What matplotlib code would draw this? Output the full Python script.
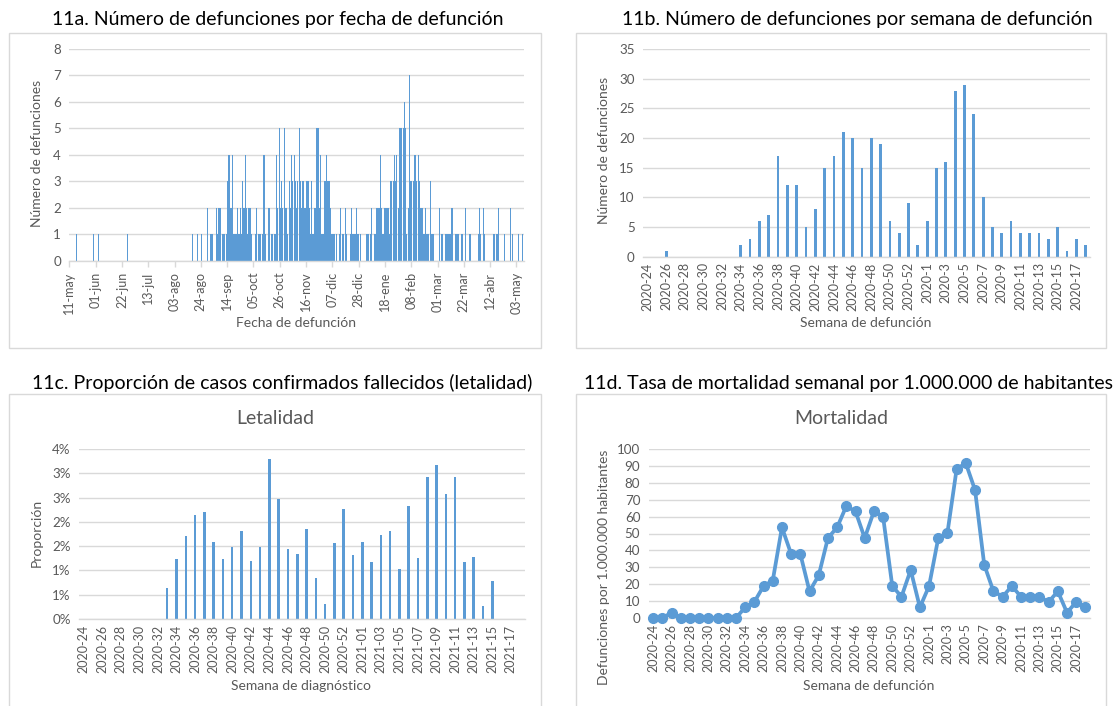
import matplotlib
matplotlib.use("Agg")
import matplotlib.pyplot as plt
from matplotlib.patches import Rectangle
import numpy as np

plt.rcParams['font.family'] = ['Lato', 'DejaVu Sans']

# ---------------- DATA ----------------
# 11a: daily deaths, starting Monday 11-may-2020 (one row per week, Mon..Sun)
daily_weeks = [
    [0, 0, 0, 0, 0, 1, 0],  # 11-may
    [0, 0, 0, 0, 0, 0, 0],
    [0, 0, 0, 0, 0, 1, 0],
    [0, 0, 1, 0, 0, 0, 0],  # 01-jun
    [0, 0, 0, 0, 0, 0, 0],
    [0, 0, 0, 0, 0, 0, 0],
    [0, 0, 0, 0, 1, 0, 0],  # 22-jun
    [0, 0, 0, 0, 0, 0, 0],
    [0, 0, 0, 0, 0, 0, 0],
    [0, 0, 0, 0, 0, 0, 0],  # 13-jul
    [0, 0, 0, 0, 0, 0, 0],
    [0, 0, 0, 0, 0, 0, 0],
    [0, 0, 0, 0, 0, 0, 0],  # 03-ago
    [0, 0, 0, 0, 0, 0, 0],
    [1, 0, 0, 0, 1, 0, 0],
    [1, 0, 0, 0, 0, 2, 0],  # 24-ago
    [1, 1, 1, 0, 0, 2, 1],
    [2, 2, 0, 1, 1, 0, 1],
    [3, 4, 2, 2, 4, 1, 1],  # 14-sep
    [1, 2, 1, 2, 1, 3, 2],
    [4, 2, 1, 2, 2, 1, 0],
    [0, 1, 2, 0, 1, 1, 0],  # 05-oct
    [1, 4, 1, 0, 0, 2, 0],
    [1, 1, 1, 1, 4, 2, 5],
    [2, 3, 2, 5, 2, 2, 1],  # 26-oct
    [3, 2, 4, 3, 4, 3, 2],
    [3, 5, 3, 2, 3, 2, 2],
    [3, 3, 2, 1, 3, 1, 2],  # 16-nov
    [2, 5, 5, 2, 4, 1, 1],
    [3, 3, 4, 3, 3, 2, 1],
    [1, 1, 0, 1, 0, 1, 2],  # 07-dic
    [0, 1, 0, 2, 1, 0, 0],
    [1, 2, 1, 1, 1, 2, 1],
    [0, 1, 0, 0, 0, 0, 1],  # 28-dic
    [1, 0, 1, 2, 0, 1, 1],
    [2, 2, 2, 4, 2, 1, 2],
    [2, 2, 2, 1, 3, 3, 3],  # 18-ene
    [4, 3, 4, 2, 5, 5, 5],
    [5, 6, 5, 1, 2, 7, 3],
    [3, 3, 4, 4, 3, 4, 3],  # 08-feb
    [2, 2, 1, 1, 2, 1, 1],
    [0, 3, 1, 1, 0, 0, 0],
    [0, 2, 0, 1, 0, 0, 1],  # 01-mar
    [1, 1, 1, 1, 2, 0, 0],
    [1, 1, 1, 0, 0, 1, 0],
    [0, 2, 0, 0, 1, 1, 0],  # 22-mar
    [0, 0, 0, 0, 1, 2, 1],
    [0, 2, 1, 0, 0, 0, 0],
    [0, 0, 1, 1, 0, 1, 2],  # 12-abr
    [0, 0, 0, 0, 1, 0, 0],
    [0, 0, 2, 1, 0, 0, 0],
    [0, 1, 0, 0, 1],        # 03-may
]
fechas_labels = ["11-may", "01-jun", "22-jun", "13-jul", "03-ago", "24-ago",
                 "14-sep", "05-oct", "26-oct", "16-nov", "07-dic", "28-dic",
                 "18-ene", "08-feb", "01-mar", "22-mar", "12-abr", "03-may"]

# 11b / 11d: weeks of death
semanas_def = ["2020-24", "2020-25", "2020-26", "2020-27", "2020-28", "2020-29",
               "2020-30", "2020-31", "2020-32", "2020-33", "2020-34", "2020-35",
               "2020-36", "2020-37", "2020-38", "2020-39", "2020-40", "2020-41",
               "2020-42", "2020-43", "2020-44", "2020-45", "2020-46", "2020-47",
               "2020-48", "2020-49", "2020-50", "2020-51", "2020-52", "2020-53",
               "2020-1", "2020-2", "2020-3", "2020-4", "2020-5", "2020-6",
               "2020-7", "2020-8", "2020-9", "2020-10", "2020-11", "2020-12",
               "2020-13", "2020-14", "2020-15", "2020-16", "2020-17", "2020-18"]
defunciones_semana = [0, 0, 1, 0, 0, 0, 0, 0, 0, 0, 2, 3,
                      6, 7, 17, 12, 12, 5, 8, 15, 17, 21, 20, 15,
                      20, 19, 6, 4, 9, 2, 6, 15, 16, 28, 29, 24,
                      10, 5, 4, 6, 4, 4, 4, 3, 5, 1, 3, 2]
mortalidad = [0, 0, 3.2, 0, 0, 0, 0, 0, 0, 0, 6.3, 9.5,
              18.9, 22.1, 53.6, 37.9, 37.9, 15.8, 25.2, 47.3, 53.6, 66.2, 63.1, 47.3,
              63.1, 59.9, 18.9, 12.6, 28.4, 6.3, 18.9, 47.3, 50.5, 88.3, 91.5, 75.7,
              31.5, 15.8, 12.6, 18.9, 12.6, 12.6, 12.6, 9.5, 15.8, 3.2, 9.5, 6.3]

# 11c: weeks of diagnosis
semanas_diag = ["2020-24", "2020-25", "2020-26", "2020-27", "2020-28", "2020-29",
                "2020-30", "2020-31", "2020-32", "2020-33", "2020-34", "2020-35",
                "2020-36", "2020-37", "2020-38", "2020-39", "2020-40", "2020-41",
                "2020-42", "2020-43", "2020-44", "2020-45", "2020-46", "2020-47",
                "2020-48", "2020-49", "2020-50", "2020-51", "2020-52", "2020-53",
                "2021-01", "2021-02", "2021-03", "2021-04", "2021-05", "2021-06",
                "2021-07", "2021-08", "2021-09", "2021-10", "2021-11", "2021-12",
                "2021-13", "2021-14", "2021-15", "2021-16", "2021-17", "2021-18"]
letalidad = [0, 0, 0, 0, 0, 0, 0, 0, 0, 0.00645, 0.0123, 0.0171,
             0.0214, 0.0220, 0.01585, 0.01235, 0.01476, 0.0181, 0.0119, 0.01476, 0.0329, 0.0247,
             0.0144, 0.01345, 0.0185, 0.00837, 0.00316, 0.01565, 0.02265, 0.01318, 0.01585, 0.0118,
             0.0172, 0.0181, 0.0102, 0.0233, 0.0125, 0.0292, 0.0318, 0.0258, 0.0292, 0.0118,
             0.0128, 0.00275, 0.00776, 0, 0, 0]
letalidad_ticklabels = ["0%", "1%", "1%", "2%", "2%", "3%", "3%", "4%"]

# ---------------- STYLE ----------------
W, H = 1117, 706
BLUE = "#5B9BD5"
GRID = "#D9D9D9"
TXT = "#595959"
TICK_FS = 9.0
LAB_FS = 10

fig = plt.figure(figsize=(W / 100, H / 100), dpi=100)


def px_axes(x0, y0, x1, y1):
    return fig.add_axes([x0 / W, 1 - y1 / H, (x1 - x0) / W, (y1 - y0) / H])


def frame(x0, y0, x1, y1):
    fig.patches.append(Rectangle((x0 / W, 1 - y1 / H), (x1 - x0) / W, (y1 - y0) / H,
                                 transform=fig.transFigure, fill=False,
                                 edgecolor=GRID, linewidth=1.0))


def ftext(x, y, s, **kw):
    fig.text(x / W, 1 - y / H, s, ha="center", va="center", **kw)


def style(ax):
    for s in ["top", "right", "left"]:
        ax.spines[s].set_visible(False)
    ax.spines["bottom"].set_color(GRID)
    ax.spines["bottom"].set_linewidth(1.0)
    ax.yaxis.grid(True, color=GRID, linewidth=1.0)
    ax.set_axisbelow(True)
    ax.tick_params(axis="y", length=0, labelsize=TICK_FS + 0.6, colors=TXT, pad=6)
    ax.tick_params(axis="x", length=0, labelsize=TICK_FS, colors=TXT, labelrotation=90, pad=4)


# frames
frame(9.5, 33, 541, 348)
frame(576, 33, 1106, 348)
frame(9.5, 394, 541, 720)
frame(576, 394, 1106, 720)

# titles
ftext(278, 19, "11a. Número de defunciones por fecha de defunción", fontsize=14, color="black")
ftext(857, 19, "11b. Número de defunciones por semana de defunción", fontsize=14, color="black")
ftext(282, 383, "11c. Proporción de casos confirmados fallecidos (letalidad)", fontsize=14, color="black")
ftext(848, 383, "11d. Tasa de mortalidad semanal por 1.000.000 de habitantes", fontsize=14, color="black")

# ---- 11a ----
daily = np.concatenate([np.array(w) for w in daily_weeks])
ax = px_axes(69.3, 49, 524, 260.7)
xd = np.arange(len(daily)) + 0.5
ax.bar(xd, daily, width=0.95, color=BLUE, linewidth=0)
ax.set_xlim(0, len(daily) + 1)
ax.set_ylim(0, 8)
ax.set_yticks(range(0, 9))
ax.set_xticks(np.arange(len(fechas_labels)) * 21)
ax.set_xticklabels(fechas_labels)
style(ax)
ax.tick_params(axis="x", length=4, color=GRID, width=1)
ftext(37, 153, "Número de defunciones", rotation=90, fontsize=LAB_FS, color=TXT)
ftext(296, 323, "Fecha de defunción", fontsize=LAB_FS, color=TXT)

# ---- 11b ----
ax = px_axes(642.9, 49, 1090.3, 256.7)
xb = np.arange(len(semanas_def))
ax.bar(xb, defunciones_semana, width=0.3, color=BLUE, linewidth=0)
ax.set_xlim(-0.5, len(semanas_def) - 0.5)
ax.set_ylim(0, 35)
ax.set_yticks(range(0, 36, 5))
ax.set_xticks(xb[::2])
ax.set_xticklabels(semanas_def[::2])
style(ax)
ftext(604, 150, "Número de defunciones", rotation=90, fontsize=LAB_FS, color=TXT)
ftext(866, 323, "Semana de defunción", fontsize=LAB_FS, color=TXT)

# ---- 11c ----
ax = px_axes(79, 449, 524.8, 619)
xc = np.arange(len(semanas_diag))
ax.bar(xc, letalidad, width=0.27, color=BLUE, linewidth=0)
ax.set_xlim(-0.5, len(semanas_diag) - 0.5)
ax.set_ylim(0, 0.035)
ax.set_yticks(np.arange(len(letalidad_ticklabels)) * 0.005)
ax.set_yticklabels(letalidad_ticklabels)
ax.set_xticks(xc[::2])
ax.set_xticklabels(semanas_diag[::2])
style(ax)
ftext(37, 533, "Proporción", rotation=90, fontsize=LAB_FS, color=TXT)
ftext(301, 686, "Semana de diagnóstico", fontsize=LAB_FS, color=TXT)
ftext(275, 418, "Letalidad", fontsize=14, color=TXT)

# ---- 11d ----
ax = px_axes(648.6, 449, 1090, 618)
xm = np.arange(len(semanas_def))
ax.plot(xm, mortalidad, color=BLUE, linewidth=2.7, marker="o", markersize=7,
        markerfacecolor=BLUE, markeredgecolor=BLUE, clip_on=False, zorder=3)
ax.set_xlim(-0.5, len(semanas_def) - 0.5)
ax.set_ylim(0, 100)
ax.set_yticks(range(0, 101, 10))
ax.set_xticks(xm[::2])
ax.set_xticklabels(semanas_def[::2])
style(ax)
ftext(604, 567, "Defunciones por 1.000.000 habitantes", rotation=90, fontsize=LAB_FS, color=TXT)
ftext(869, 686, "Semana de defunción", fontsize=LAB_FS, color=TXT)
ftext(841, 418, "Mortalidad", fontsize=14, color=TXT)

fig.savefig("out.png", dpi=100)
